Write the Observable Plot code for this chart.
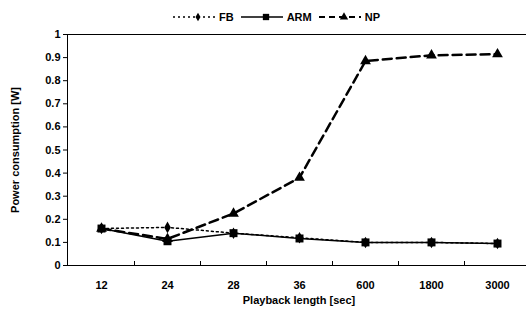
<!DOCTYPE html>
<html>
<head>
<meta charset="utf-8">
<script src="https://cdn.jsdelivr.net/npm/d3@7"></script>
<script src="https://cdn.jsdelivr.net/npm/@observablehq/plot@0.6"></script>
<style>
  html, body { margin: 0; padding: 0; background: #fff; }
  body { width: 526px; height: 315px; overflow: hidden; font-family: "Liberation Sans", Arial, sans-serif; }
  #legend { height: 24px; display: flex; justify-content: center; align-items: center; gap: 2px; font-size: 11px; font-weight: bold; color: #000; padding-left: 30px; box-sizing: border-box; padding-top: 10px; }
  #legend .item { display: flex; align-items: center; gap: 3px; }
  #legend svg { display: block; }
</style>
</head>
<body>
<div id="legend"></div>
<div id="chart"></div>
<script>
const categories = ["12", "24", "28", "36", "600", "1800", "3000"];
const fbValues  = [0.16, 0.165, 0.14, 0.12, 0.10, 0.10, 0.095];
const armValues = [0.16, 0.105, 0.14, 0.117, 0.10, 0.10, 0.095];
const npValues  = [0.16, 0.115, 0.225, 0.38, 0.885, 0.91, 0.915];
const yTicks = [0, 0.1, 0.2, 0.3, 0.4, 0.5, 0.6, 0.7, 0.8, 0.9, 1];
const seriesNames = ["FB", "ARM", "NP"];

const toRows = (name, vals) => categories.map((c, i) => ({series: name, x: c, y: vals[i]}));
const fb = toRows("FB", fbValues);
const arm = toRows("ARM", armValues);
const np = toRows("NP", npValues);

// Legend
const legendStyles = {
  FB:  {dash: "2,3", width: 1.5, symbol: "diamond"},
  ARM: {dash: null, width: 1.5, symbol: "square"},
  NP:  {dash: "6,4", width: 2, symbol: "triangle"}
};
const legend = d3.select("#legend");
for (const name of seriesNames) {
  const s = legendStyles[name];
  const item = legend.append("div").attr("class", "item");
  const svg = item.append("svg").attr("width", 44).attr("height", 12);
  svg.append("line").attr("x1", 1).attr("x2", 43).attr("y1", 6).attr("y2", 6)
    .attr("stroke", "#000").attr("stroke-width", s.width)
    .attr("stroke-dasharray", s.dash);
  const sym = s.symbol === "diamond" ? d3.symbolDiamond : s.symbol === "square" ? d3.symbolSquare : d3.symbolTriangle;
  const size = s.symbol === "diamond" ? 22 : s.symbol === "square" ? 40 : 30;
  svg.append("path").attr("d", d3.symbol(sym, size)()).attr("transform", "translate(26,6)").attr("fill", "#000");
  item.append("span").text(name).style("margin-right", "4px");
}

// Shift between-category ticks half a step left
const halfStepLeft = (index, scales, values, dims, ctx, next) => {
  const step = scales.x.step ? scales.x.step() : 0;
  return next(index, scales, {...values, x: Array.from(values.x, v => v - step / 2)}, dims, ctx);
};

const chart = Plot.plot({
  width: 526,
  height: 291,
  marginLeft: 67,
  marginRight: -4,
  marginTop: 10,
  marginBottom: 50,
  style: {fontFamily: "Liberation Sans, Arial, sans-serif", fontSize: "11px", fontWeight: "bold", color: "#000", background: "#fff", overflow: "visible"},
  x: {type: "point", domain: categories, padding: 0.5},
  y: {domain: [0, 1]},
  marks: [
    Plot.frame({stroke: "#000", strokeWidth: 1}),
    Plot.tickX(categories.slice(1), {x: d => d, stroke: "#000", insetTop: 227, render: halfStepLeft}),
    Plot.axisY({ticks: yTicks, tickSize: 4, tickPadding: 3, tickFormat: d => d === 0 ? "0" : d === 1 ? "1" : d.toFixed(1),
      label: "Power consumption [W]", labelAnchor: "center", labelOffset: 56, labelArrow: "none"}),
    Plot.axisX({tickSize: 0, tickPadding: 16, label: "Playback length [sec]", labelAnchor: "center", labelOffset: 38, labelArrow: "none"}),
    Plot.line(fb, {x: "x", y: "y", stroke: "#000", strokeWidth: 1.5, strokeDasharray: "2,3"}),
    Plot.line(arm, {x: "x", y: "y", stroke: "#000", strokeWidth: 1.5}),
    Plot.line(np, {x: "x", y: "y", stroke: "#000", strokeWidth: 2.5, strokeDasharray: "9,5"}),
    Plot.dot(fb, {x: "x", y: "y", symbol: "diamond", r: 3.5, fill: "#000"}),
    Plot.dot(np, {x: "x", y: "y", symbol: "triangle", r: 4, fill: "#000"}),
    Plot.dot(arm, {x: "x", y: "y", symbol: "square", r: 4.5, fill: "#000"})
  ]
});
document.getElementById("chart").appendChild(chart);
</script>
</body>
</html>
